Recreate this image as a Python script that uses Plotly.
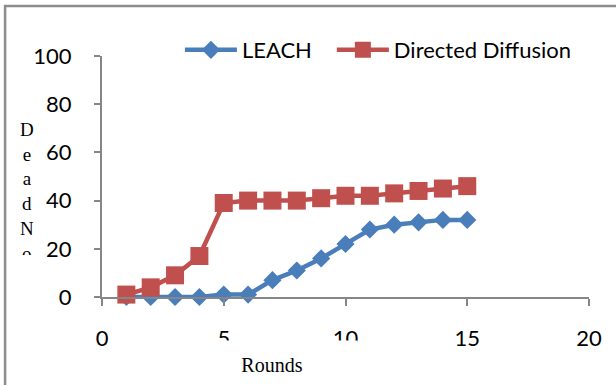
import plotly.graph_objects as go

# Rounds and dead-node counts for each protocol
rounds = list(range(1, 16))
leach_dead = [0, 0, 0, 0, 1, 1, 7, 11, 16, 22, 28, 30, 31, 32, 32]
dd_dead = [1, 4, 9, 17, 39, 40, 40, 40, 41, 42, 42, 43, 44, 45, 46]

x_ticks = [0, 5, 10, 15, 20]
y_ticks = [0, 20, 40, 60, 80, 100]

BLUE = "#4A7EBB"
RED = "#C0504D"
AXIS = "#868686"
TICK_FONT = dict(family="Lato, Liberation Sans, sans-serif", size=22, color="black")
LEGEND_FONT = dict(family="Lato, Liberation Sans, sans-serif", size=22, color="black")

fig = go.Figure()
fig.add_trace(go.Scatter(
    x=rounds, y=leach_dead, name="LEACH", mode="lines+markers",
    line=dict(color=BLUE, width=4.5),
    marker=dict(symbol="diamond", size=14, color=BLUE),
    cliponaxis=False, legend="legend",
))
fig.add_trace(go.Scatter(
    x=rounds, y=dd_dead, name="Directed Diffusion", mode="lines+markers",
    line=dict(color=RED, width=4.5),
    marker=dict(symbol="square", size=18, color=RED),
    cliponaxis=False, legend="legend2",
))

fig.update_layout(
    width=616, height=385,
    margin=dict(l=102, r=27, t=56, b=88),
    paper_bgcolor="white", plot_bgcolor="white",
    showlegend=True,
    legend=dict(
        orientation="h", x=0.16, y=1.025, xanchor="left", yanchor="middle",
        font=LEGEND_FONT, itemwidth=52, bgcolor="rgba(0,0,0,0)",
    ),
    legend2=dict(
        orientation="h", x=0.472, y=1.025, xanchor="left", yanchor="middle",
        font=LEGEND_FONT, itemwidth=52, bgcolor="rgba(0,0,0,0)",
    ),
    xaxis=dict(
        range=[0, 20], tickvals=x_ticks, ticktext=[str(v) for v in x_ticks],
        showgrid=False, zeroline=False, showline=True, linecolor=AXIS, linewidth=2,
        ticks="outside", ticklen=7, tickwidth=2, tickcolor=AXIS,
        tickfont=TICK_FONT, ticklabelstandoff=14,
    ),
    yaxis=dict(
        range=[0, 100], tickvals=y_ticks, ticktext=[str(v) for v in y_ticks],
        showgrid=False, zeroline=False, showline=True, linecolor=AXIS, linewidth=2,
        ticks="outside", ticklen=6, tickwidth=2, tickcolor=AXIS,
        tickfont=TICK_FONT, ticklabelstandoff=18,
    ),
)

# Outer chart frame
fig.add_shape(
    type="rect", xref="paper", yref="paper",
    x0=-0.199, x1=1.3, y0=-0.6, y1=1.2075,
    line=dict(color="#8C8C8C", width=2.5), fillcolor="rgba(0,0,0,0)", layer="below",
)

# X-axis title in a white text box
fig.add_annotation(
    text="Rounds", xref="paper", yref="paper", x=0.349, y=-0.282,
    xanchor="center", yanchor="middle", showarrow=False,
    font=dict(family="Liberation Serif, Times New Roman, serif", size=20, color="black"),
    bgcolor="white", width=170, height=48, borderpad=0,
)

# Y-axis title, stacked letters in a fixed-height text box
fig.add_annotation(
    text="<br>".join(list("DeadNodes")), xref="paper", yref="paper",
    x=-0.154, y=0.747, xanchor="center", yanchor="top", valign="top",
    showarrow=False,
    font=dict(family="Liberation Serif, Times New Roman, serif", size=19, color="black"),
    width=30, height=136,
)

fig.write_html("out.html")
